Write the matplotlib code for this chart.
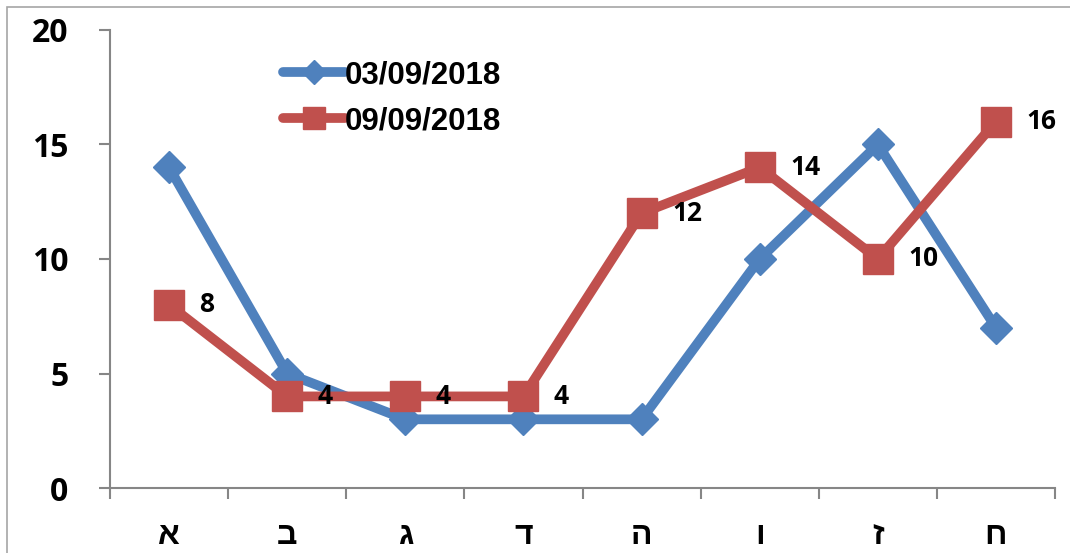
import matplotlib.pyplot as plt
from matplotlib.patches import Rectangle
from matplotlib.font_manager import FontProperties
import numpy as np

plt.rcParams['font.family'] = ['Open Sans', 'DejaVu Sans']
plt.rcParams['font.weight'] = 'bold'

categories = ['א', 'ב', 'ג', 'ד', 'ה', 'ו', 'ז', 'ח']
series_a = [14, 5, 3, 3, 3, 10, 15, 7]
series_b = [8, 4, 4, 4, 12, 14, 10, 16]
label_a = '03/09/2018'
label_b = '09/09/2018'

BLUE = '#4F81BD'
RED = '#C0504D'
GRAY = '#868686'
ARIAL = ['Liberation Sans', 'DejaVu Sans']


def main():
    fig = plt.figure(figsize=(10.7, 5.53), dpi=100)
    ax = fig.add_axes([0.1028, 0.1175, 0.8832, 0.8283])

    # outer chart frame
    fig.patches.append(Rectangle((7 / 1070, -0.1), 1.2, 1 - 7 / 553 + 0.1,
                                 transform=fig.transFigure, fill=False,
                                 edgecolor='#a6a6a6', linewidth=1.2))

    x = np.arange(len(categories))
    ax.plot(x, series_a, color=BLUE, lw=7, marker='D', ms=16,
            solid_joinstyle='round', solid_capstyle='round', label=label_a, zorder=3)
    ax.plot(x, series_b, color=RED, lw=7, marker='s', ms=22,
            solid_joinstyle='round', solid_capstyle='round', label=label_b, zorder=4)

    for xi, v in zip(x, series_b):
        ax.annotate(str(v), (xi, v), xytext=(22, 0), textcoords='offset points',
                    ha='left', va='center', fontsize=19, fontweight='bold', zorder=6)

    ax.set_xlim(-0.5, len(categories) - 0.5)
    ax.set_ylim(0, 20)
    ax.set_yticks([0, 5, 10, 15, 20])
    ax.set_xticks(np.arange(-0.5, len(categories), 1.0))
    ax.set_xticklabels([])
    ax.set_xticks(x, minor=True)
    ax.set_xticklabels(categories, minor=True, fontsize=23, fontweight='bold', family=ARIAL)
    ax.tick_params(axis='x', which='minor', length=0, pad=24)
    ax.tick_params(axis='x', which='major', length=8, width=1.5, color=GRAY, direction='out')
    ax.tick_params(axis='y', length=8, width=1.5, color=GRAY, direction='out',
                   labelsize=23, pad=22)
    for lab in ax.get_yticklabels():
        lab.set_fontweight('bold')

    for s in ['top', 'right']:
        ax.spines[s].set_visible(False)
    for s in ['left', 'bottom']:
        ax.spines[s].set_color(GRAY)
        ax.spines[s].set_linewidth(1.5)

    legend_font = FontProperties(family=ARIAL, weight='bold', size=22.5)
    ax.legend(loc='upper left', bbox_to_anchor=(0.153, 0.995), frameon=False,
              prop=legend_font, handlelength=2.0, handletextpad=0.0,
              labelspacing=0.5, markerscale=0.75)

    fig.savefig('out.png', dpi=100)


if __name__ == '__main__':
    main()
